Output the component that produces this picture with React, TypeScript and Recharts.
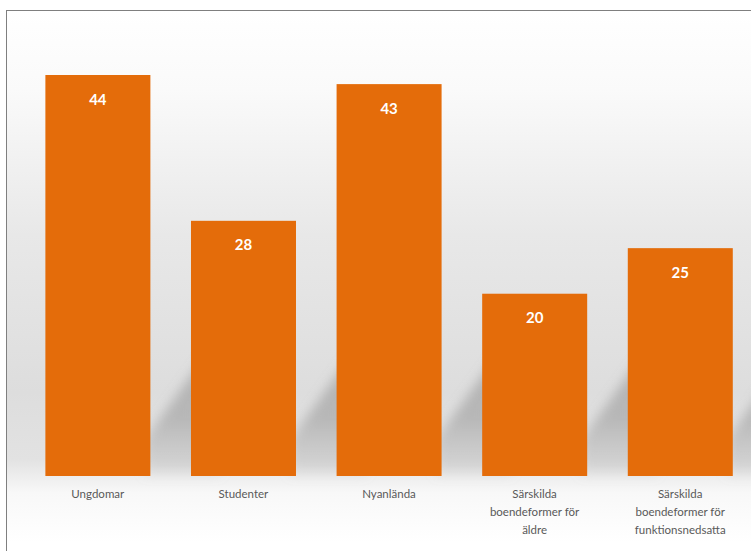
import * as React from "react";
import { BarChart, Bar, XAxis, YAxis, LabelList } from "recharts";

// "\n" marks the line breaks used in the original axis labels
const categories = [
  "Ungdomar",
  "Studenter",
  "Nyanlända",
  "Särskilda\nboendeformer för\näldre",
  "Särskilda\nboendeformer för\nfunktionsnedsatta",
];
const values = [44, 28, 43, 20, 25];

const data = categories.map((name, i) => ({ name, value: values[i] }));

const BAR = "#E46C0A";

// bar with a soft diagonal shadow cast to the right on the floor
function ShadowBar(props: any) {
  const { x, y, width, height } = props;
  const bottom = y + height;
  const r = x + width;
  const L = 70;
  const d = `M${r - 6},${bottom - 2} L${r - 6},${bottom - 36} L${r + L},${bottom - 36 - 1.5 * L} L${r + L},${bottom - 2} Z`;
  return (
    <g>
      <path d={d} fill="url(#shadowGrad)" filter="url(#blur)" />
      <rect x={x} y={y} width={width} height={height} fill={BAR} />
    </g>
  );
}

function Tick(props: any) {
  const { x, y, payload } = props;
  const lines = String(payload.value).split("\n");
  return (
    <text
      x={x}
      y={y}
      textAnchor="middle"
      fontSize={11.5}
      fontFamily="Lato, sans-serif"
      fill="#595959"
    >
      {lines.map((ln, i) => (
        <tspan key={i} x={x} dy={i === 0 ? 10 : 18}>
          {ln}
        </tspan>
      ))}
    </text>
  );
}

export default function App() {
  return (
    <div
      style={{
        position: "absolute",
        left: 0,
        top: 0,
        width: 751,
        height: 551,
        overflow: "hidden",
        background: "#fff",
      }}
    >
      <div
        style={{
          position: "absolute",
          left: 6,
          top: 10,
          width: 760,
          height: 560,
          border: "1px solid #7f7f7f",
          background:
            "linear-gradient(to bottom, #ffffff 0%, #fafafa 14%, #e8e8e8 40%, #dddddd 68%, #e2e2e2 80%, #f8f8f8 86%, #ffffff 95%)",
        }}
      >
        <BarChart
          width={760}
          height={560}
          data={data}
          margin={{ top: 64, right: 14, left: 18, bottom: 15 }}
          barCategoryGap="14%"
        >
          <defs>
            <linearGradient id="shadowGrad" x1="0" y1="0" x2="0" y2="1">
              <stop offset="0%" stopColor="#8c8c8c" stopOpacity={0.55} />
              <stop offset="60%" stopColor="#909090" stopOpacity={0.5} />
              <stop offset="100%" stopColor="#b0b0b0" stopOpacity={0.25} />
            </linearGradient>
            <filter id="blur" x="-30%" y="-30%" width="160%" height="160%">
              <feGaussianBlur stdDeviation="6" />
            </filter>
          </defs>
          <YAxis hide domain={[0, 44]} />
          <XAxis
            dataKey="name"
            axisLine={false}
            tickLine={false}
            height={80}
            interval={0}
            tick={<Tick />}
            tickMargin={6}
          />
          <Bar dataKey="value" fill={BAR} isAnimationActive={false} shape={<ShadowBar />}>
            <LabelList
              dataKey="value"
              position="insideTop"
              offset={19}
              fill="#ffffff"
              fontSize={15}
              fontWeight="bold"
              fontFamily="Lato, sans-serif"
            />
          </Bar>
        </BarChart>
      </div>
    </div>
  );
}
